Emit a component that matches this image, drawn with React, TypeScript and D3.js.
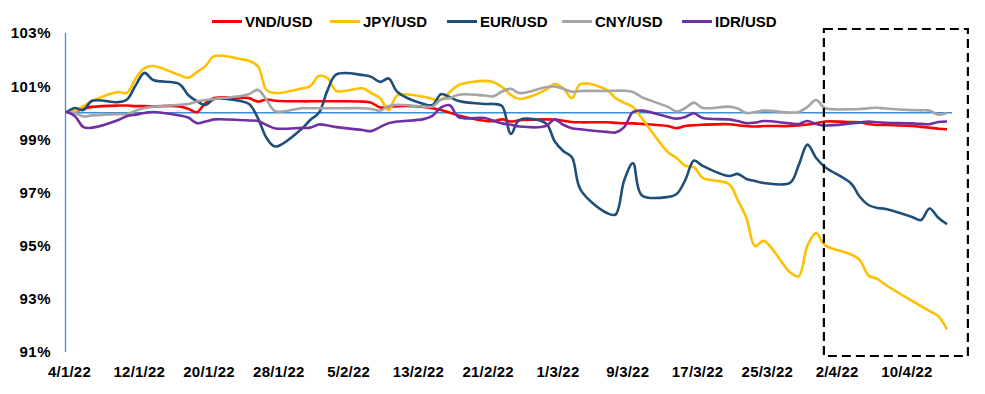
import * as d3 from 'd3';

// trading days in 2022 (day/month)
const DATES = [
  '4/1', '5/1', '6/1', '7/1', '10/1', '11/1', '12/1', '13/1', '14/1', '17/1',
  '18/1', '19/1', '20/1', '21/1', '24/1', '25/1', '26/1', '27/1', '28/1', '31/1',
  '1/2', '2/2', '3/2', '4/2', '7/2', '8/2', '9/2', '10/2', '11/2', '14/2',
  '15/2', '16/2', '17/2', '18/2', '21/2', '22/2', '23/2', '24/2', '25/2', '28/2',
  '1/3', '2/3', '3/3', '4/3', '7/3', '8/3', '9/3', '10/3', '11/3', '14/3',
  '15/3', '16/3', '17/3', '18/3', '21/3', '22/3', '23/3', '24/3', '25/3', '28/3',
  '29/3', '30/3', '31/3', '1/4', '4/4', '5/4', '6/4', '7/4', '8/4', '11/4',
  '12/4', '13/4', '14/4', '15/4',
];

// index vs. 4/1/22, in %
const VND = [
  100.0, 100.05, 100.15, 100.22, 100.27, 100.27, 100.25, 100.25, 100.24, 100.24,
  100.15, 100.02, 100.37, 100.55, 100.56, 100.55, 100.42, 100.5, 100.45, 100.43,
  100.43, 100.43, 100.43, 100.43, 100.42, 100.38, 100.2, 100.22, 100.25, 100.22,
  100.17, 100.1, 100.0, 99.9, 99.7, 99.68, 99.75, 99.67, 99.72, 99.75,
  99.74, 99.7, 99.65, 99.64, 99.64, 99.62, 99.6, 99.6, 99.58, 99.5,
  99.42, 99.5, 99.53, 99.55, 99.57, 99.53, 99.5, 99.48, 99.5, 99.5,
  99.52, 99.56, 99.6, 99.67, 99.65, 99.64, 99.58, 99.54, 99.54, 99.5,
  99.47, 99.44, 99.4, 99.38,
];
const JPY = [
  100.0, 100.05, 100.25, 100.44, 100.78, 100.75, 101.3, 101.68, 101.76, 101.42,
  101.32, 101.53, 101.76, 102.13, 102.02, 101.95, 101.75, 100.85, 100.74, 100.91,
  101.0, 101.38, 101.3, 100.82, 100.92, 100.74, 100.55, 100.1, 100.65, 100.6,
  100.52, 100.48, 100.78, 101.04, 101.2, 101.15, 100.97, 100.67, 100.52, 100.86,
  101.08, 100.93, 100.55, 101.08, 100.86, 100.55, 100.37, 100.22, 99.8, 98.52,
  98.3, 98.0, 97.95, 97.55, 97.32, 96.72, 96.04, 94.98, 95.18, 94.0,
  93.85, 95.0, 95.47, 95.02, 94.67, 94.46, 93.88, 93.75, 93.52, 92.92,
  92.73, 92.54, 92.35, 91.85,
];
const EUR = [
  100.0, 100.18, 100.1, 100.45, 100.4, 100.5, 101.04, 101.5, 101.23, 101.08,
  100.67, 100.44, 100.29, 100.52, 100.44, 100.33, 99.8, 99.05, 98.73, 99.39,
  99.73, 100.0, 100.86, 101.44, 101.42, 101.35, 101.16, 101.29, 100.78, 100.33,
  100.29, 100.7, 100.59, 100.44, 100.33, 100.33, 100.25, 99.2, 99.73, 99.6,
  98.94, 98.56, 98.33, 97.1, 96.23, 96.17, 97.47, 98.1, 96.9, 96.83,
  96.94, 97.47, 98.2, 98.0, 97.62, 97.7, 97.51, 97.43, 97.36, 97.36,
  98.03, 98.8, 98.3, 97.96, 97.34, 96.84, 96.53, 96.42, 96.38, 96.08,
  95.96, 96.4, 96.05, 95.81,
];
const CNY = [
  100.0, 99.99, 99.86, 99.9, 99.95, 99.95, 100.08, 100.18, 100.23, 100.3,
  100.33, 100.42, 100.48, 100.52, 100.63, 100.7, 100.86, 100.48, 100.06, 100.17,
  100.17, 100.17, 100.17, 100.17, 100.17, 100.14, 100.08, 100.25, 100.3, 100.23,
  100.23, 100.5, 100.55, 100.68, 100.65, 100.62, 100.8, 100.9, 100.74, 100.96,
  100.99, 100.9, 100.79, 100.82, 100.82, 100.83, 100.83, 100.78, 100.59, 100.22,
  100.05, 100.18, 100.38, 100.18, 100.23, 100.16, 99.99, 100.03, 100.08, 100.01,
  100.03, 100.22, 100.48, 100.18, 100.13, 100.14, 100.17, 100.19, 100.16, 100.1,
  100.09, 100.08, 99.93, 99.99,
];
const IDR = [
  100.05, 99.88, 99.46, 99.44, 99.73, 99.88, 99.93, 99.99, 100.03, 99.9,
  99.82, 99.61, 99.67, 99.75, 99.73, 99.71, 99.69, 99.54, 99.41, 99.43,
  99.44, 99.56, 99.52, 99.46, 99.35, 99.31, 99.46, 99.61, 99.67, 99.76,
  99.88, 100.2, 100.28, 99.84, 99.8, 99.7, 99.6, 99.55, 99.48, 99.5,
  99.75, 99.55, 99.42, 99.38, 99.28, 99.26, 99.46, 100.03, 100.08, 99.84,
  99.78, 99.84, 99.98, 99.8, 99.75, 99.69, 99.61, 99.63, 99.69, 99.6,
  99.58, 99.69, 99.58, 99.52, 99.6, 99.63, 99.67, 99.64, 99.62, 99.6,
  99.58, 99.57, 99.65, 99.67,
];

const SERIES = [
  { name: 'VND/USD', color: '#FF0000', values: VND },
  { name: 'JPY/USD', color: '#FFC000', values: JPY },
  { name: 'EUR/USD', color: '#1F4E79', values: EUR },
  { name: 'CNY/USD', color: '#A5A5A5', values: CNY },
  { name: 'IDR/USD', color: '#7030A0', values: IDR },
];

const Y_TICKS = [91, 93, 95, 97, 99, 101, 103];
const X_TICKS = [
  '4/1/22', '12/1/22', '20/1/22', '28/1/22', '5/2/22', '13/2/22', '21/2/22',
  '1/3/22', '9/3/22', '17/3/22', '25/3/22', '2/4/22', '10/4/22',
];

const W = 985;
const H = 394;
const FONT = "'Liberation Sans', Arial, sans-serif";
const AXIS_BLUE = '#3D8FD6';

const parseDate = (s: string) => {
  const [d, m] = s.split('/').map(Number);
  return new Date(2022, m - 1, d);
};

export default function App() {
  const dates = DATES.map(parseDate);
  const x = d3
    .scaleTime()
    .domain([dates[0], dates[dates.length - 1]])
    .range([66, 947]);
  const y = d3.scaleLinear().domain([91, 103]).range([352, 33]);

  const line = d3
    .line<[Date, number]>()
    .x((d) => x(d[0]))
    .y((d) => y(d[1]))
    .curve(d3.curveCatmullRom.alpha(0.5));

  const legendX = [212, 330, 447, 562, 682];

  return (
    <svg
      width={W}
      height={H}
      style={{ position: 'absolute', left: 0, top: 0, background: '#fff' }}
      fontFamily={FONT}
      fontWeight="bold"
    >
      {/* legend */}
      {SERIES.map((s, i) => (
        <g key={s.name} transform={`translate(${legendX[i]},21.5)`}>
          <line x1={0} x2={30} y1={0} y2={0} stroke={s.color} strokeWidth={3} />
          <text x={33} y={5} fontSize={15} fill="#000">
            {s.name}
          </text>
        </g>
      ))}

      {/* y axis */}
      <line x1={65.5} x2={65.5} y1={y(103)} y2={y(91)} stroke={AXIS_BLUE} strokeWidth={1.3} />
      {Y_TICKS.map((t) => (
        <text
          key={t}
          x={51}
          y={y(t)}
          dy="0.36em"
          textAnchor="end"
          fontSize={15}
          letterSpacing={0.5}
          fill="#000"
        >
          {t}%
        </text>
      ))}

      {/* x labels */}
      {X_TICKS.map((t) => {
        const [d, m] = t.split('/').map(Number);
        return (
          <text
            key={t}
            x={x(new Date(2022, m - 1, d)) + 3.5}
            y={377}
            textAnchor="middle"
            fontSize={15}
            letterSpacing={0.2}
            fill="#000"
          >
            {t}
          </text>
        );
      })}

      {/* 100% reference */}
      <line x1={66} x2={952} y1={y(100)} y2={y(100)} stroke={AXIS_BLUE} strokeWidth={1.3} />

      {/* series */}
      {SERIES.map((s) => (
        <path
          key={s.name}
          d={line(dates.map((d, i) => [d, s.values[i]] as [Date, number])) ?? ''}
          fill="none"
          stroke={s.color}
          strokeWidth={2.6}
          strokeLinejoin="round"
        />
      ))}

      {/* highlight box */}
      <rect
        x={x(parseDate('1/4')) - 1}
        y={29}
        width={144}
        height={327}
        fill="none"
        stroke="#000"
        strokeWidth={2.2}
        strokeDasharray="9,5"
      />
    </svg>
  );
}
